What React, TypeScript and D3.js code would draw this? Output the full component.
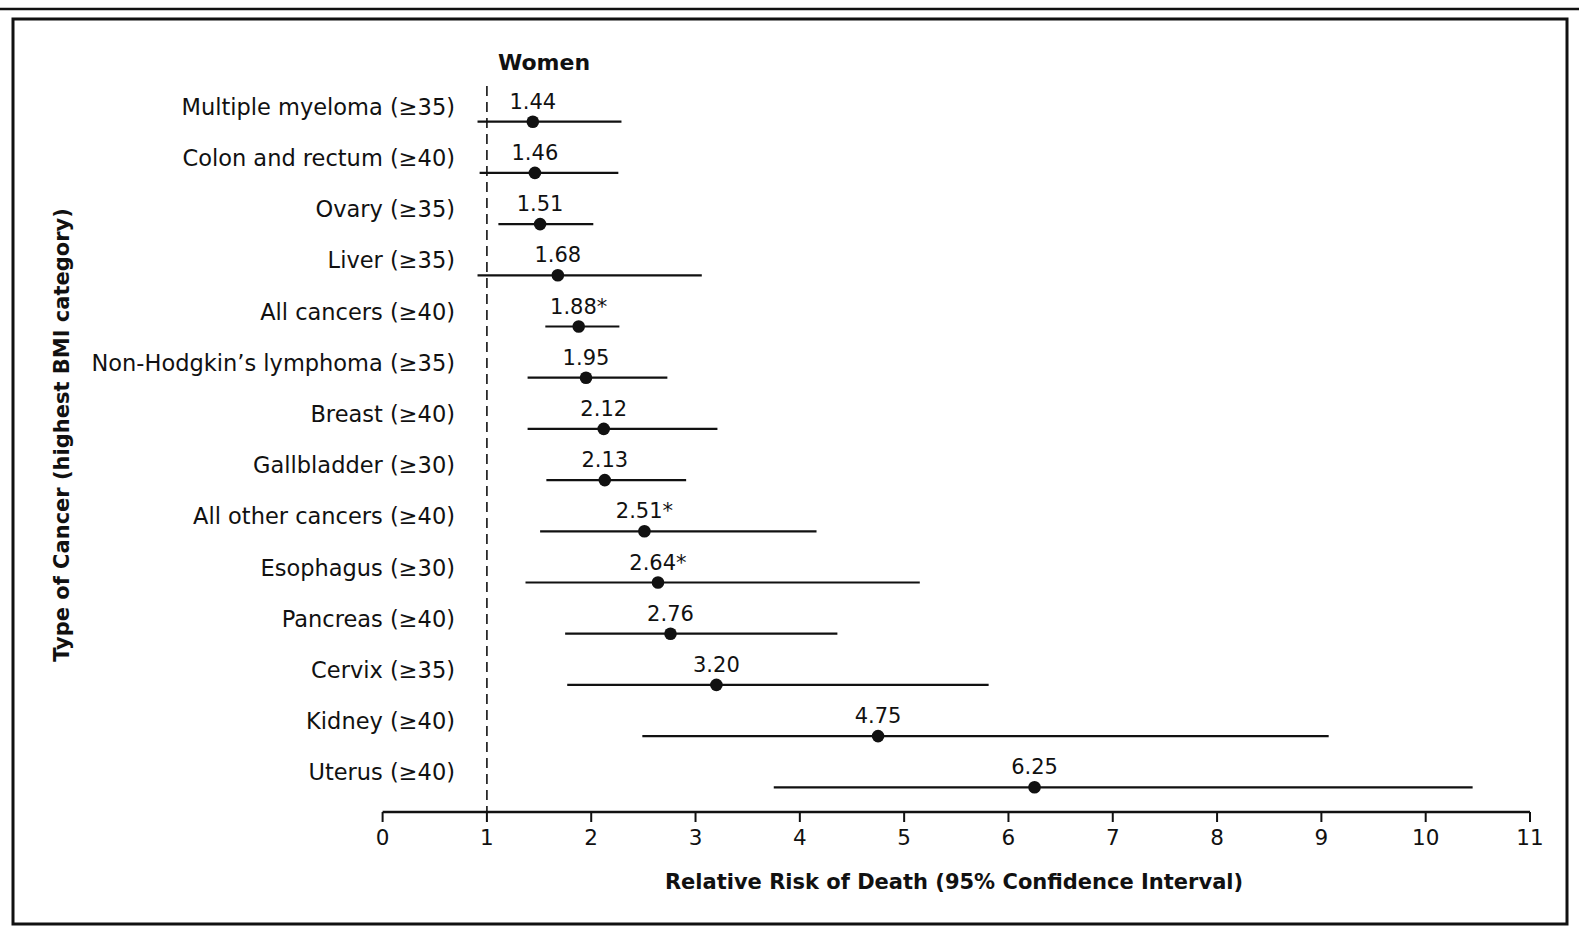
import React from "react";
import * as d3 from "d3";

// Cancer mortality relative risk, women, highest BMI category
const categories = [
  "Multiple myeloma (≥35)",
  "Colon and rectum (≥40)",
  "Ovary (≥35)",
  "Liver (≥35)",
  "All cancers (≥40)",
  "Non-Hodgkin’s lymphoma (≥35)",
  "Breast (≥40)",
  "Gallbladder (≥30)",
  "All other cancers (≥40)",
  "Esophagus (≥30)",
  "Pancreas (≥40)",
  "Cervix (≥35)",
  "Kidney (≥40)",
  "Uterus (≥40)",
];
const relativeRisk = [1.44, 1.46, 1.51, 1.68, 1.88, 1.95, 2.12, 2.13, 2.51, 2.64, 2.76, 3.2, 4.75, 6.25];
const ciLow = [0.91, 0.93, 1.11, 0.91, 1.56, 1.39, 1.39, 1.57, 1.51, 1.37, 1.75, 1.77, 2.49, 3.75];
const ciHigh = [2.29, 2.26, 2.02, 3.06, 2.27, 2.73, 3.21, 2.91, 4.16, 5.15, 4.36, 5.81, 9.07, 10.45];
const starred = [false, false, false, false, true, false, false, false, true, true, false, false, false, false];
const xTicks = [0, 1, 2, 3, 4, 5, 6, 7, 8, 9, 10, 11];

const W = 1579;
const H = 931;
const FONT = "'DejaVu Sans', sans-serif";
const INK = "#111";

export default function App() {
  const x = d3.scaleLinear().domain([0, 11]).range([382.6, 1530]);
  const y = d3.scalePoint<string>().domain(categories).range([121.7, 787.3]);
  const axisY = 812;

  return (
    <svg
      width={W}
      height={H}
      viewBox={`0 0 ${W} ${H}`}
      style={{ position: "absolute", left: 0, top: 0, background: "#fff" }}
      fontFamily={FONT}
    >
      <rect x={0} y={0} width={W} height={H} fill="#fff" />
      {/* page rule and panel frame */}
      <line x1={0} x2={W} y1={9} y2={9} stroke={INK} strokeWidth={2.5} />
      <rect x={13} y={19} width={1554} height={905} fill="none" stroke={INK} strokeWidth={3} />

      {/* panel heading */}
      <text x={544} y={70} textAnchor="middle" fontSize={22} fontWeight="bold" fill={INK}>
        Women
      </text>

      {/* null line at RR = 1 */}
      <line
        x1={x(1)}
        x2={x(1)}
        y1={86}
        y2={axisY}
        stroke={INK}
        strokeWidth={1.6}
        strokeDasharray="10,6"
      />

      {/* rows */}
      {categories.map((c, i) => {
        const cy = y(c) as number;
        const label = relativeRisk[i].toFixed(2) + (starred[i] ? "*" : "");
        return (
          <g key={c}>
            <text x={455} y={cy - 7} textAnchor="end" fontSize={22.5} fill={INK}>
              {c}
            </text>
            <line x1={x(ciLow[i])} x2={x(ciHigh[i])} y1={cy} y2={cy} stroke={INK} strokeWidth={2.2} />
            <circle cx={x(relativeRisk[i])} cy={cy} r={6.3} fill={INK} />
            <text x={x(relativeRisk[i])} y={cy - 13} textAnchor="middle" fontSize={21} fill={INK}>
              {label}
            </text>
          </g>
        );
      })}

      {/* x axis */}
      <line x1={x(0)} x2={x(11)} y1={axisY} y2={axisY} stroke={INK} strokeWidth={2.5} />
      {xTicks.map((t) => (
        <g key={t}>
          <line x1={x(t)} x2={x(t)} y1={axisY} y2={axisY + 10} stroke={INK} strokeWidth={2} />
          <text x={x(t)} y={axisY + 33} textAnchor="middle" fontSize={21.5} fill={INK}>
            {t}
          </text>
        </g>
      ))}
      <text x={954} y={889} textAnchor="middle" fontSize={21} fontWeight="bold" fill={INK}>
        Relative Risk of Death (95% Confidence Interval)
      </text>

      {/* y axis title */}
      <text
        transform={`translate(69, 435) rotate(-90)`}
        textAnchor="middle"
        fontSize={21}
        fontWeight="bold"
        fill={INK}
      >
        Type of Cancer (highest BMI category)
      </text>
    </svg>
  );
}
